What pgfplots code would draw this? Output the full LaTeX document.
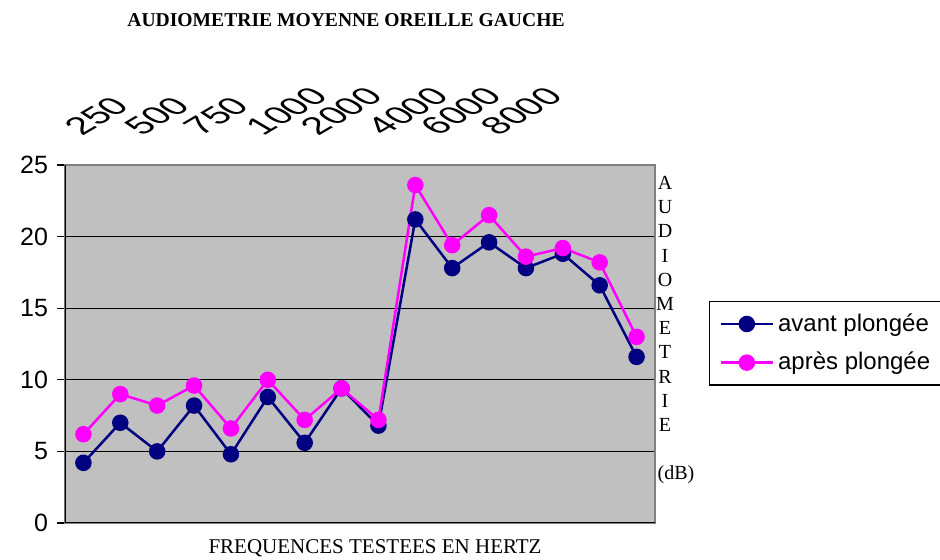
\documentclass[border=0pt]{standalone}
\usepackage{fontspec}
\setmainfont{Liberation Serif}
\newfontfamily\arial{Liberation Sans}
\usepackage{graphicx}
\usepackage{pgfplots}
\pgfplotsset{compat=1.18}

\definecolor{avant}{HTML}{000080}
\definecolor{apres}{HTML}{FF00FF}
\definecolor{plotbg}{HTML}{C0C0C0}

% stretched, slanted frequency labels
\newcommand{\freq}[1]{\scalebox{1.7}[1]{\rotatebox{45}{#1}}}

\begin{document}
\begin{tikzpicture}
\useasboundingbox (-32.5pt,-18.5pt) rectangle (437.5pt,261.5pt);
\begin{axis}[
  at={(0,0)}, anchor=south west,
  scale only axis, width=295pt, height=179pt,
  xmin=-0.5, xmax=15.5, ymin=0, ymax=25,
  ytick={0,5,...,25},
  ytick pos=left, tick align=outside, major tick length=4pt,
  y tick style={black, line width=0.6pt},
  /pgf/number format/assume math mode=true,
  yticklabel style={font=\arial\fontsize{12.5}{14}\selectfont, xshift=-1pt},
  xtick={-0.5,1.13,2.75,4.43,5.92,7.71,9.17,10.8},
  xticklabels={\freq{250},\freq{500},\freq{750},\freq{1000},
               \freq{2000},\freq{4000},\freq{6000},\freq{8000}},
  xticklabel pos=right, x tick style={draw=none},
  xticklabel style={font=\arial\fontsize{12.3}{13}\selectfont, anchor=south west, inner sep=0pt, xshift=-2pt, yshift=10pt},
  ymajorgrids, grid style={black, line width=0.6pt},
  axis background/.style={fill=plotbg},
  axis line style={draw=gray, line width=0.8pt},
  legend style={at={(1.0915,0.62)}, anchor=north west, draw=black, line width=0.6pt,
    font=\arial\fontsize{12}{14}\selectfont, row sep=5pt, inner xsep=5pt, inner ysep=4pt},
  legend cell align=left,
  legend image code/.code={
    \draw[mark repeat=2, mark phase=2, #1] plot coordinates {(0pt,0pt) (13pt,0pt) (26pt,0pt)};},
]
\addplot[avant, line width=1.25pt, mark=*, mark size=3.5pt] coordinates {
  (0,4.2) (1,7.0) (2,5.0) (3,8.2) (4,4.8) (5,8.8) (6,5.6) (7,9.4)
  (8,6.8) (9,21.2) (10,17.8) (11,19.6) (12,17.8) (13,18.8) (14,16.6) (15,11.6)
};
\addlegendentry{avant plongée}
\addplot[apres, line width=1.25pt, mark=*, mark size=3.5pt] coordinates {
  (0,6.2) (1,9.0) (2,8.2) (3,9.6) (4,6.6) (5,10.0) (6,7.2) (7,9.4)
  (8,7.2) (9,23.6) (10,19.4) (11,21.5) (12,18.6) (13,19.2) (14,18.2) (15,13.0)
};
\addlegendentry{après plongée}
\draw[black, line width=0.8pt] (rel axis cs:0,1) -- (rel axis cs:0,0) -- (rel axis cs:1,0);
\end{axis}
\node[font=\bfseries\fontsize{9.8}{11}\selectfont] at (140.5pt,251.5pt) {AUDIOMETRIE MOYENNE OREILLE GAUCHE};
\node[font=\fontsize{10.5}{12}\selectfont] at (155pt,-12.5pt) {FREQUENCES TESTEES EN HERTZ};
\foreach \l [count=\k from 0] in {A,U,D,I,O,M,E,T,R,I,E}
  \node[font=\fontsize{10}{12}\selectfont, inner sep=0pt] at ({300pt},{(170-12.1*\k)*1pt}) {\l};
\node[font=\fontsize{10}{12}\selectfont, inner sep=0pt] at (305.5pt,24pt) {(dB)};
\end{tikzpicture}
\end{document}
